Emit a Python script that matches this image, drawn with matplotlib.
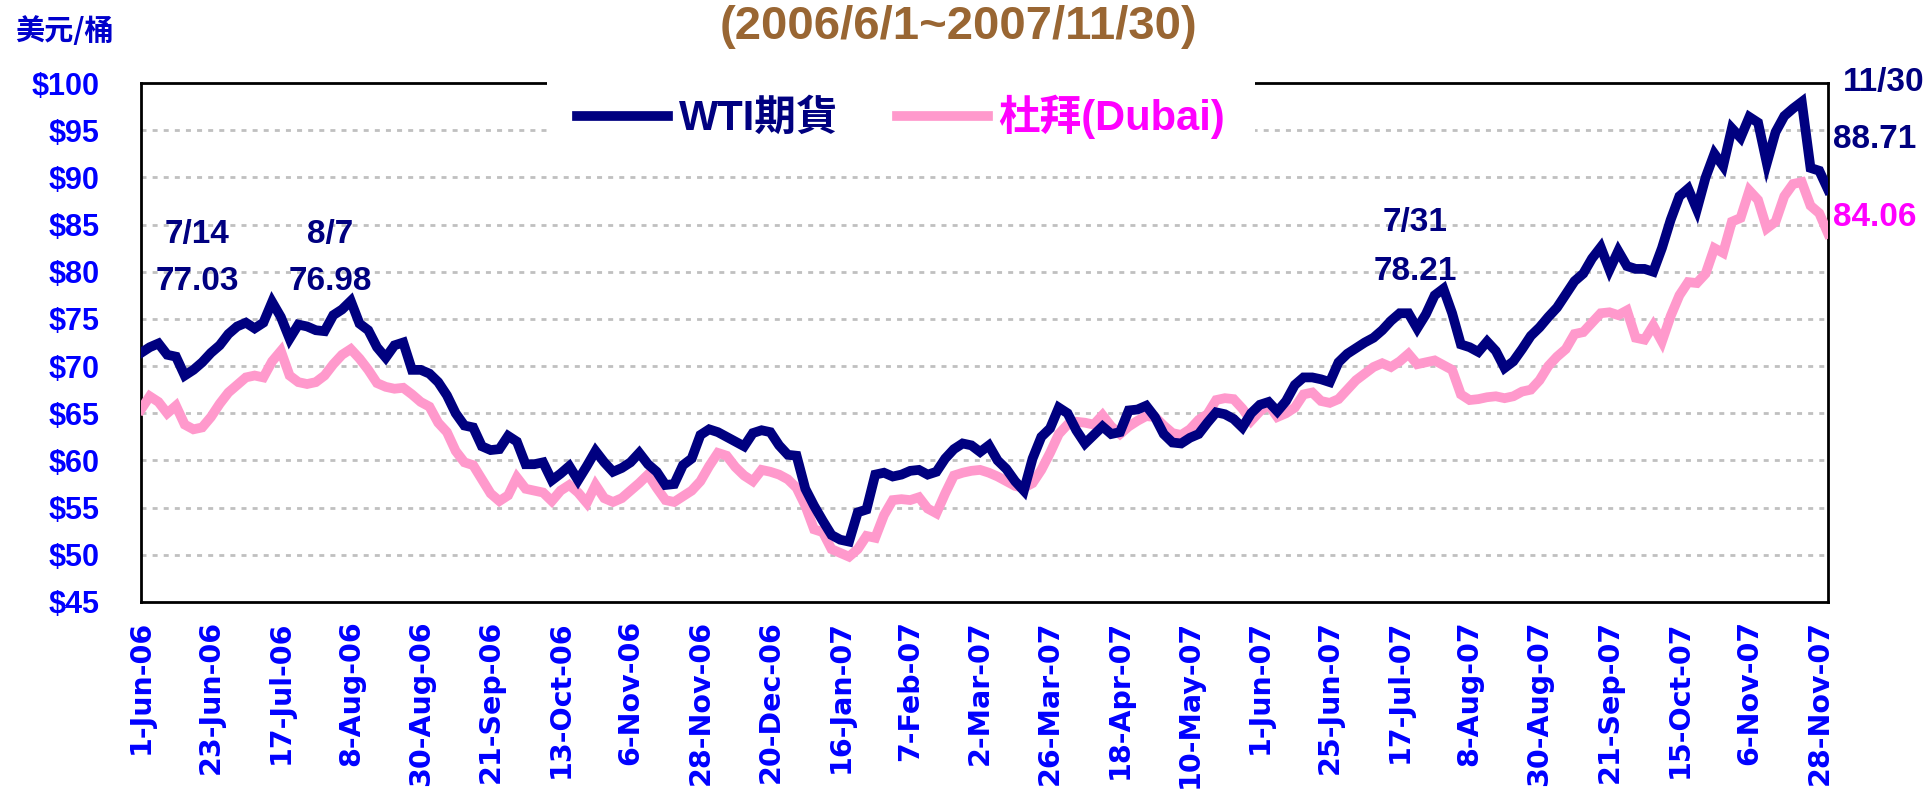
import numpy as np
import matplotlib
matplotlib.use("Agg")
import matplotlib.pyplot as plt
from matplotlib.lines import Line2D

plt.rcParams['font.family'] = ['Liberation Sans', 'Noto Sans CJK TC', 'DejaVu Sans']

# x axis: trading days 2006/6/1 .. 2007/11/30, a label every 16 trading days
tick_labels = ["1-Jun-06", "23-Jun-06", "17-Jul-06", "8-Aug-06", "30-Aug-06",
               "21-Sep-06", "13-Oct-06", "6-Nov-06", "28-Nov-06", "20-Dec-06",
               "16-Jan-07", "7-Feb-07", "2-Mar-07", "26-Mar-07", "18-Apr-07",
               "10-May-07", "1-Jun-07", "25-Jun-07", "17-Jul-07", "8-Aug-07",
               "30-Aug-07", "21-Sep-07", "15-Oct-07", "6-Nov-07", "28-Nov-07"]
tick_every = 16
n_days = 387
sample_every = 2   # one value every 2 trading days

# WTI futures, USD/bbl
wti = [71.4, 72.0, 72.4, 71.2, 71.0, 69.0, 69.6, 70.4, 71.4, 72.2,
       73.4, 74.2, 74.6, 74.0, 74.6, 76.8, 75.2, 72.9, 74.4, 74.2,
       73.8, 73.7, 75.4, 76.0, 76.9, 74.5, 73.8, 72.0, 70.9, 72.2,
       72.5, 69.6, 69.6, 69.2, 68.3, 66.9, 65.0, 63.7, 63.5, 61.5,
       61.1, 61.2, 62.6, 62.0, 59.6, 59.6, 59.8, 57.9, 58.6, 59.4,
       57.9, 59.4, 61.0, 59.8, 58.8, 59.2, 59.8, 60.8, 59.6, 58.8,
       57.4, 57.5, 59.5, 60.2, 62.7, 63.3, 63.0, 62.5, 62.0, 61.5,
       62.9, 63.2, 63.0, 61.6, 60.6, 60.5, 57.0, 55.2, 53.6, 52.1,
       51.6, 51.4, 54.5, 54.8, 58.5, 58.7, 58.3, 58.5, 58.9, 59.0,
       58.5, 58.8, 60.2, 61.2, 61.8, 61.6, 60.9, 61.6, 60.0, 59.1,
       57.8, 56.8, 60.2, 62.5, 63.4, 65.6, 65.0, 63.2, 61.8, 62.7,
       63.6, 62.8, 63.0, 65.3, 65.4, 65.8, 64.6, 62.8, 61.9, 61.8,
       62.4, 62.8, 64.0, 65.1, 64.9, 64.4, 63.5, 65.0, 65.9, 66.2,
       65.2, 66.3, 68.0, 68.8, 68.8, 68.6, 68.3, 70.4, 71.3, 71.9,
       72.5, 73.0, 73.8, 74.8, 75.6, 75.6, 74.0, 75.5, 77.5, 78.2,
       75.6, 72.3, 72.0, 71.5, 72.6, 71.6, 69.8, 70.5, 71.8, 73.2,
       74.1, 75.2, 76.2, 77.6, 79.0, 79.8, 81.4, 82.6, 80.2, 82.2,
       80.6, 80.3, 80.3, 80.0, 82.5, 85.5, 88.0, 88.8, 86.6, 90.0,
       92.5, 91.2, 95.2, 94.2, 96.4, 95.8, 91.5, 94.8, 96.5, 97.3,
       98.0, 91.0, 90.7, 88.71]

# Dubai spot, USD/bbl
dubai = [65.4, 66.8, 66.2, 65.0, 65.8, 63.8, 63.3, 63.5, 64.6, 66.0,
         67.2, 68.0, 68.8, 69.0, 68.8, 70.5, 71.6, 69.0, 68.3, 68.1,
         68.3, 69.0, 70.2, 71.2, 71.8, 70.8, 69.6, 68.2, 67.8, 67.6,
         67.7, 67.0, 66.2, 65.7, 64.0, 63.0, 61.0, 59.8, 59.5, 58.0,
         56.5, 55.7, 56.3, 58.2, 57.0, 56.8, 56.6, 55.7, 56.8, 57.4,
         56.6, 55.5, 57.4, 56.0, 55.6, 56.0, 56.8, 57.6, 58.5, 57.1,
         55.8, 55.6, 56.2, 56.8, 57.8, 59.4, 60.8, 60.5, 59.3, 58.4,
         57.8, 59.0, 58.8, 58.5, 58.0, 57.1, 55.2, 52.7, 52.4, 50.6,
         50.2, 49.8, 50.6, 52.0, 51.8, 54.2, 55.8, 55.9, 55.8, 56.1,
         54.9, 54.4, 56.5, 58.4, 58.7, 58.9, 59.0, 58.7, 58.3, 57.8,
         57.3, 57.1, 57.6, 59.0, 60.8, 62.8, 63.8, 64.1, 64.0, 63.8,
         64.8, 63.6, 62.8, 63.6, 64.2, 64.7, 64.6, 63.7, 62.9, 62.7,
         63.3, 64.3, 64.9, 66.4, 66.6, 66.5, 65.5, 64.2, 65.2, 65.9,
         64.6, 65.0, 65.6, 67.0, 67.2, 66.3, 66.1, 66.5, 67.5, 68.5,
         69.2, 69.9, 70.3, 69.9, 70.5, 71.3, 70.2, 70.4, 70.6, 70.1,
         69.6, 67.0, 66.4, 66.5, 66.7, 66.8, 66.6, 66.8, 67.3, 67.5,
         68.5, 70.0, 71.0, 71.8, 73.4, 73.6, 74.6, 75.6, 75.7, 75.4,
         75.9, 73.0, 72.8, 74.3, 72.6, 75.3, 77.5, 78.9, 78.8, 79.8,
         82.5, 82.0, 85.3, 85.7, 88.6, 87.6, 84.6, 85.3, 88.0, 89.3,
         89.5, 87.0, 86.2, 84.06]

series_names = ["WTI期貨", "杜拜(Dubai)"]
peak_notes = [("7/14", "77.03"), ("8/7", "76.98"), ("7/31", "78.21")]
last_date = "11/30"

navy = '#000080'
pink = '#FF99CC'
magenta = '#FF00FF'
blue = '#0000FF'

W, H = 1930, 800
fig = plt.figure(figsize=(W / 100, H / 100), dpi=100)


def px(x, y):
    # pixel position (from top-left) to figure fraction
    return x / W, 1 - y / H


ax = fig.add_axes([141 / W, 1 - 602 / H, (1828 - 141) / W, (602 - 83) / H])

x = np.arange(0, n_days, sample_every)
ax.plot(x, dubai, color=pink, lw=7, solid_joinstyle='miter', zorder=3)
ax.plot(x, wti, color=navy, lw=7, solid_joinstyle='miter', zorder=4)

ax.set_xlim(0, n_days - 1)
ax.set_ylim(45, 100)

for v in range(50, 100, 5):
    ax.axhline(v, color='#C0C0C0', lw=2, ls=(0, (1.8, 2.2)), zorder=1)

yt = list(range(45, 101, 5))
ax.set_yticks(yt)
ax.set_yticklabels([f"${v}" for v in yt], fontsize=22, fontweight='bold',
                   color=blue)
ax.set_xticks(range(0, n_days, tick_every))
ax.set_xticklabels(tick_labels, rotation=90, fontsize=20.5, fontweight='bold',
                   color=blue, family='DejaVu Sans', va='top', ha='center')
ax.tick_params(axis='y', length=0, pad=30)
ax.tick_params(axis='x', length=0, pad=13)

for s in ax.spines.values():
    s.set_linewidth(2)
    s.set_color('black')

# legend sits on the top frame and hides part of it
handles = [Line2D([], [], color=navy, lw=7), Line2D([], [], color=pink, lw=7)]
leg = ax.legend(handles, series_names, ncol=2, loc='center',
                bbox_to_anchor=px(901, 117), bbox_transform=fig.transFigure,
                prop={'size': 30, 'weight': 'bold'}, handlelength=2.2,
                handletextpad=0.25, columnspacing=1.4, borderpad=0.7,
                frameon=True, fancybox=False, edgecolor='none',
                facecolor='white', framealpha=1)
leg.set_zorder(10)
leg.get_texts()[0].set_color(navy)
leg.get_texts()[1].set_color(magenta)

fig.text(*px(959, 27), "(2006/6/1~2007/11/30)", ha='center', va='center',
         fontsize=34, fontweight='bold', color='#996633')
fig.text(*px(15, 31), "美元/桶", ha='left', va='center', fontsize=21,
         fontweight='bold', color='#0000CC', family=['Noto Sans CJK TC'])

note_pos = [(197, 234, 282), (330, 234, 282), (1415, 223, 271)]
for (d, val), (nx, ny1, ny2) in zip(peak_notes, note_pos):
    fig.text(*px(nx, ny1), d, ha='center', va='center', fontsize=24,
             fontweight='bold', color=navy)
    fig.text(*px(nx, ny2), val, ha='center', va='center', fontsize=24,
             fontweight='bold', color=navy)

fig.text(*px(1843, 82), last_date, ha='left', va='center', fontsize=24,
         fontweight='bold', color=navy)
fig.text(*px(1833, 139), f"{wti[-1]:.2f}", ha='left', va='center', fontsize=24,
         fontweight='bold', color=navy)
fig.text(*px(1833, 217), f"{dubai[-1]:.2f}", ha='left', va='center', fontsize=24,
         fontweight='bold', color=magenta)

fig.savefig('out.png', dpi=100)
